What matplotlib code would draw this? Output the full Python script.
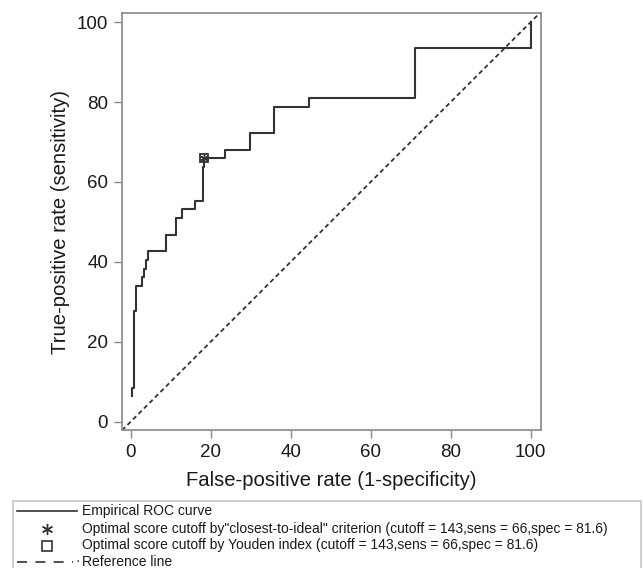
import matplotlib
matplotlib.use('Agg')
import matplotlib.pyplot as plt
from matplotlib.lines import Line2D
from matplotlib.patches import Rectangle

plt.rcParams['font.family'] = ['Liberation Sans', 'DejaVu Sans']

# ROC curve vertices (false-positive rate %, true-positive rate %)
fpr = [0.2, 0.2, 0.8, 1.2, 2.7, 3.2, 3.7, 4.2, 8.9, 11.4, 12.9, 16.1,
       18.1, 18.4, 23.6, 29.7, 35.7, 44.5, 71.0, 100.0]
tpr = [6.4, 8.5, 27.7, 34.0, 36.2, 38.3, 40.4, 42.6, 46.8, 51.1, 53.2, 55.3,
       63.8, 66.0, 68.1, 72.3, 78.7, 80.9, 93.6, 100.0]

# optimal cutoff point
opt_fpr = [18.4]
opt_tpr = [66.0]

ticks = [0, 20, 40, 60, 80, 100]
ref_line = [-2.2, 102.5]

legend_labels = [
    'Empirical ROC curve',
    'Optimal score cutoff by"closest-to-ideal" criterion (cutoff = 143,sens = 66,spec = 81.6)',
    'Optimal score cutoff by Youden index (cutoff = 143,sens = 66,spec = 81.6)',
    'Reference line',
]

W, H = 643, 568
fig = plt.figure(figsize=(W / 100, H / 100), dpi=100)
ax = fig.add_axes([122 / W, 1 - 430 / H, (541 - 122) / W, (430 - 13) / H])

ax.plot(fpr, tpr, drawstyle='steps-post', color='#333333', lw=1.5)
ax.plot(ref_line, ref_line, color='#333333', lw=1.3, linestyle=(0, (2.5, 1.8)))
ax.plot(opt_fpr, opt_tpr, marker='s', ms=6, mfc='none', mec='#333333', mew=1.3, ls='none')
ax.plot(opt_fpr, opt_tpr, marker=(6, 2, 0), ms=6, mec='#333333', mew=1.0, ls='none')

ax.set_xlim(-2.2, 102.6)
ax.set_ylim(-2.1, 102.3)
ax.set_xticks(ticks)
ax.set_yticks(ticks)
ax.tick_params(direction='out', length=6, width=1, color='#888888',
               labelsize=13.5, pad=4, labelcolor='#1a1a1a')
for s in ax.spines.values():
    s.set_color('#888888')
    s.set_linewidth(1.2)

ax.set_xlabel('False-positive rate (1-specificity)', fontsize=14.6, color='#1a1a1a', labelpad=7)
ax.set_ylabel('True-positive rate (sensitivity)', fontsize=14.6, color='#1a1a1a', labelpad=5)

# legend box drawn by hand, bottom is cut off in the original
fig.add_artist(Rectangle((13 / W, -0.05), (641 - 13) / W, 0.05 + 1 - 501 / H,
                         transform=fig.transFigure, fill=False,
                         edgecolor='#c8c8c8', lw=1.2))
rows = [511, 528.5, 545.5, 561.5]
fs = 10.0
fig.add_artist(Line2D([17 / W, 77 / W], [1 - rows[0] / H] * 2, color='#333333', lw=1.2))
fig.add_artist(Line2D([46.5 / W], [1 - rows[1] / H], marker=(6, 2, 0), ms=8,
                      mec='#333333', mew=1.0, ls='none'))
fig.add_artist(Line2D([46.5 / W], [1 - rows[2] / H], marker='s', ms=7,
                      mfc='none', mec='#333333', mew=1.2, ls='none'))
fig.add_artist(Line2D([17 / W, 73 / W], [1 - rows[3] / H] * 2, color='#333333',
                      lw=1.2, linestyle=(0, (6, 5))))
fig.text(75 / W, 1 - rows[3] / H, '·', fontsize=fs, va='center', ha='left', color='#333333')
for lab, r in zip(legend_labels, rows):
    fig.text(81.5 / W, 1 - r / H, lab, fontsize=fs, va='center', ha='left', color='#1a1a1a')

fig.savefig('out.png', dpi=100)
